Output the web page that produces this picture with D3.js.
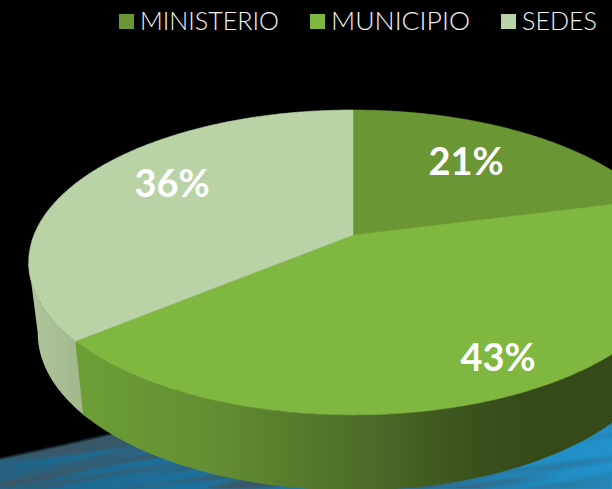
<!DOCTYPE html>
<html>
<head>
<meta charset="utf-8">
<script src="https://cdn.jsdelivr.net/npm/d3@7"></script>
<style>
  html, body { margin: 0; padding: 0; background: #000; }
  svg { display: block; }
</style>
</head>
<body>
<svg id="chart" width="612" height="489"></svg>
<script>
const categories = ["MINISTERIO", "MUNICIPIO", "SEDES"];
const shares = [21, 43, 36];
const topColors = ["#6a9633", "#7fb740", "#b9d3a6"];

const width = 612, height = 489;
const svg = d3.select("#chart");
const defs = svg.append("defs");

// tilted disc: circle coords go through a perspective divide
const cx = 353, cy = 235, rx = 319, ry = 147.5, persp = -0.18;
const depthY = 70, depthRy = 152, depthScale = 0.972;

function project(angle, drop = false) {
  const u = Math.sin(angle), v = -Math.cos(angle);
  const d = 1 + persp * v;
  if (drop) return [cx + rx * depthScale * u / d, cy + depthY + depthRy * v / d];
  return [cx + rx * u / d, cy + ry * v / d];
}

function rimPoints(a0, a1, drop = false) {
  const n = Math.ceil(Math.abs(a1 - a0) / 0.01);
  return d3.range(n + 1).map(i => project(a0 + (a1 - a0) * i / n, drop));
}

const arcs = d3.pie().sort(null).value(d => d)(shares);
const line = d3.line();

// background
svg.append("rect").attr("width", width).attr("height", height).attr("fill", "#000");

const floorGrad = defs.append("linearGradient").attr("id", "floor");
floorGrad.append("stop").attr("offset", "0%").attr("stop-color", "#1f6488");
floorGrad.append("stop").attr("offset", "45%").attr("stop-color", "#1f76a4");
floorGrad.append("stop").attr("offset", "100%").attr("stop-color", "#2193cd");

defs.append("filter").attr("id", "soft").attr("x", "-10%").attr("y", "-10%").attr("width", "120%").attr("height", "120%")
  .append("feGaussianBlur").attr("stdDeviation", 1.3);

// long thin noise, used as dark streaks over the blue
const streakFilter = defs.append("filter").attr("id", "streaks")
  .attr("x", 0).attr("y", 0).attr("width", 1).attr("height", 1);
streakFilter.append("feTurbulence")
  .attr("type", "fractalNoise").attr("baseFrequency", "0.004 0.085").attr("numOctaves", 2).attr("seed", 7);
streakFilter.append("feColorMatrix").attr("type", "matrix")
  .attr("values", "0 0 0 0 0.04  0 0 0 0 0.10  0 0 0 0 0.14  7 0 0 0 -2.9");

const fadeGrad = defs.append("linearGradient").attr("id", "fade");
fadeGrad.append("stop").attr("offset", "0%").attr("stop-color", "#fff");
fadeGrad.append("stop").attr("offset", "55%").attr("stop-color", "#fff");
fadeGrad.append("stop").attr("offset", "100%").attr("stop-color", "#333");
defs.append("mask").attr("id", "fadeMask").attr("maskUnits", "userSpaceOnUse")
  .attr("x", 0).attr("y", 0).attr("width", width).attr("height", height)
  .append("rect").attr("width", width).attr("height", height).attr("fill", "url(#fade)");

const floorShape = "M-10,461 L60,446 L130,430 L330,420 L612,395 L620,500 L-10,500 Z";
defs.append("clipPath").attr("id", "floorClip").append("path").attr("d", floorShape);

const floor = svg.append("g").attr("filter", "url(#soft)");
floor.append("path").attr("d", floorShape).attr("fill", "url(#floor)");
floor.append("g").attr("clip-path", "url(#floorClip)").attr("mask", "url(#fadeMask)")
  .append("g").attr("transform", "rotate(-9 0 489)")
  .append("rect").attr("x", -60).attr("y", 360).attr("width", 760).attr("height", 240)
  .attr("filter", "url(#streaks)");

// walls
const frontGrad = defs.append("linearGradient").attr("id", "wallFront")
  .attr("gradientUnits", "userSpaceOnUse").attr("x1", 80).attr("x2", 540).attr("y1", 0).attr("y2", 0);
[[0, "#6c9e36"], [0.3, "#638d32"], [0.58, "#4f7029"], [0.85, "#3a521c"], [1, "#344a19"]].forEach(s => {
  frontGrad.append("stop").attr("offset", s[0]).attr("stop-color", s[1]);
});
const sideGrad = defs.append("linearGradient").attr("id", "wallSide")
  .attr("gradientUnits", "userSpaceOnUse").attr("x1", 30).attr("x2", 85).attr("y1", 0).attr("y2", 0);
sideGrad.append("stop").attr("offset", "0%").attr("stop-color", "#b0c69d");
sideGrad.append("stop").attr("offset", "100%").attr("stop-color", "#a0b78c");

function wall(a0, a1, fill) {
  const pts = rimPoints(a0, a1).concat(rimPoints(a1, a0, true));
  svg.append("path").attr("d", line(pts) + "Z").attr("fill", fill);
}
// side wall runs a little under the front one so no black seam shows
wall(arcs[2].startAngle - 0.02, arcs[2].startAngle + 0.51, "url(#wallSide)");
wall(Math.PI / 3, arcs[1].endAngle, "url(#wallFront)");

// top slices
arcs.forEach((a, i) => {
  const pts = [[cx, cy]].concat(rimPoints(a.startAngle, a.endAngle));
  svg.append("path").attr("d", line(pts) + "Z")
    .attr("fill", topColors[i])
    .attr("stroke", topColors[i]).attr("stroke-width", 0.6);
});

// value labels
const labelPos = [[466, 175], [498, 371], [172, 197]];
shares.forEach((v, i) => {
  svg.append("text")
    .attr("x", labelPos[i][0]).attr("y", labelPos[i][1])
    .attr("text-anchor", "middle")
    .attr("font-family", "Lato, sans-serif").attr("font-weight", 700).attr("font-size", 38)
    .attr("fill", "#fff")
    .text(v + "%");
});

// legend
const legendX = [119, 310, 501];
const legendLen = [139, 139, 75];
categories.forEach((c, i) => {
  svg.append("rect")
    .attr("x", legendX[i]).attr("y", 14).attr("width", 15).attr("height", 15)
    .attr("fill", topColors[i]);
  svg.append("text")
    .attr("x", legendX[i] + 21).attr("y", 30)
    .attr("font-family", "Lato, sans-serif").attr("font-weight", 300).attr("font-size", 26)
    .attr("textLength", legendLen[i]).attr("lengthAdjust", "spacingAndGlyphs")
    .attr("fill", "#f2f2f2")
    .text(c);
});
</script>
</body>
</html>
